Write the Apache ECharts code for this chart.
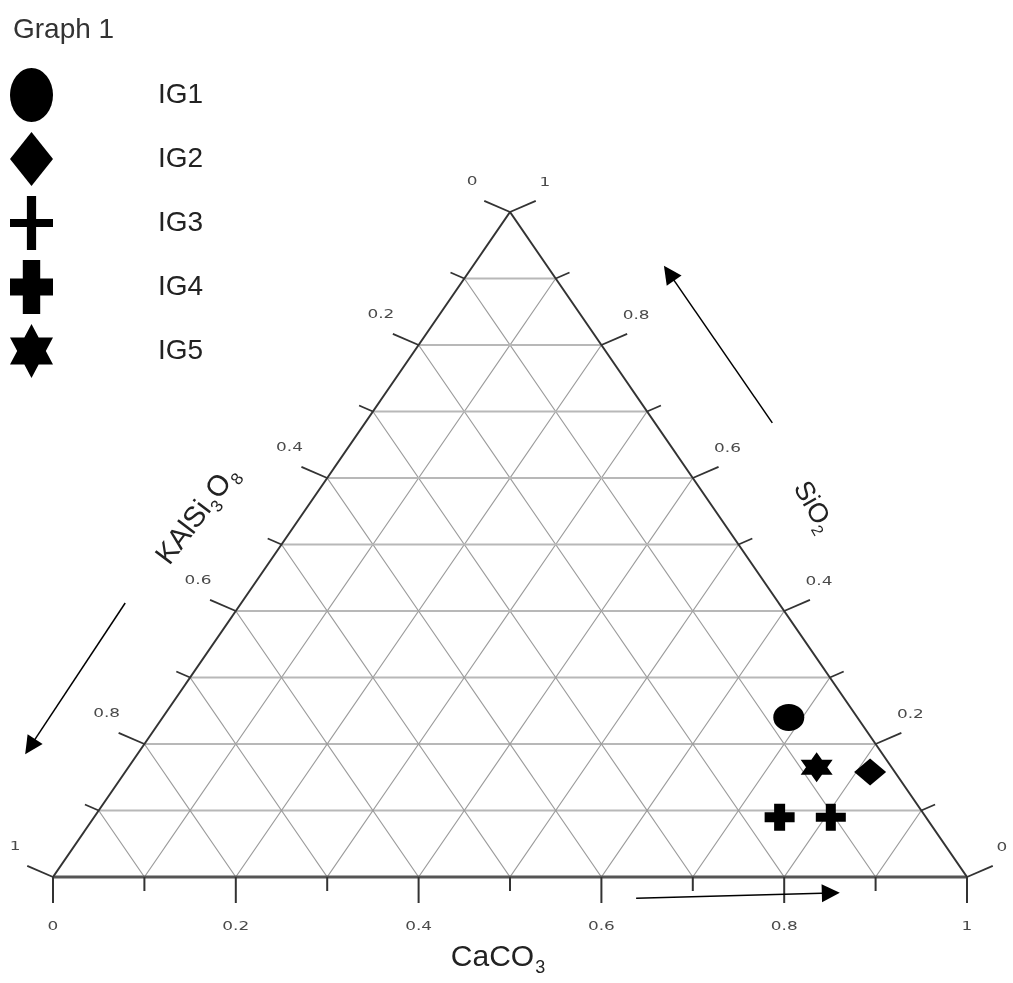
<!DOCTYPE html>
<html>
<head>
<meta charset="utf-8">
<script src="https://cdn.jsdelivr.net/npm/echarts@6/dist/echarts.min.js"></script>
<style>
  html, body { margin: 0; padding: 0; background: #ffffff; }
  #chart { width: 1013px; height: 983px; }
</style>
</head>
<body>
<div id="chart"></div>
<script>
// Sample groups and their composition (fractions of CaCO3, SiO2, KAlSi3O8)
const groups = ['IG1', 'IG2', 'IG3', 'IG4', 'IG5'];
const caco3 = [0.685, 0.815, 0.806, 0.75, 0.753];
const sio2  = [0.24, 0.158, 0.09, 0.09, 0.165];
const kalsi = [0.075, 0.027, 0.104, 0.16, 0.082];

// Ternary axis ticks
const tickValues = [0, 0.1, 0.2, 0.3, 0.4, 0.5, 0.6, 0.7, 0.8, 0.9, 1];
const majorTicks = [0, 0.2, 0.4, 0.6, 0.8, 1];
const tickLabels = ['0', '0.2', '0.4', '0.6', '0.8', '1'];

// Direction arrows beside each axis, [from, to] in plot units
const arrows = [
  [[0.787, 0.683], [0.674, 0.908]],
  [[0.079, 0.412], [-0.025, 0.196]],
  [[0.638, -0.032], [0.851, -0.024]]
];

// ternary (c, s, k) -> plot position: x along CaCO3 base, y = SiO2 height
function toXY(c, s, k) {
  const t = c + s + k;
  return [(c + s / 2) / t, s / t];
}

// marker shapes
function hexagram(w, h) {
  const pts = [];
  for (let i = 0; i < 12; i++) {
    const a = (-90 + 30 * i) * Math.PI / 180;
    const r = i % 2 === 0 ? 1 : 0.577;
    pts.push(((1 + r * Math.cos(a)) * w / 2).toFixed(2) + ',' + ((1 + r * Math.sin(a)) * h / 2).toFixed(2));
  }
  return 'path://M' + pts.join('L') + 'Z';
}
function plus(w, h, bw, bh) {
  const x0 = (w - bw) / 2, x1 = (w + bw) / 2, y0 = (h - bh) / 2, y1 = (h + bh) / 2;
  return 'path://M' + x0 + ',0H' + x1 + 'V' + y0 + 'H' + w + 'V' + y1 + 'H' + x1 + 'V' + h +
         'H' + x0 + 'V' + y1 + 'H0V' + y0 + 'H' + x0 + 'Z';
}
const ellipse = 'path://M0,27A21,27 0 1,1 42,27A21,27 0 1,1 0,27Z';
const diamond = 'path://M21,0L42,27L21,54L0,27Z';

const plotSymbols = [
  { symbol: ellipse, size: [31, 27] },
  { symbol: diamond, size: [32, 27] },
  { symbol: plus(30, 27, 10, 9), size: [30, 27] },
  { symbol: plus(30, 27, 11, 10), size: [30, 27] },
  { symbol: hexagram(32, 30), size: [32, 30] }
];
const legendIcons = [ellipse, diamond, plus(42, 54, 9, 8), plus(42, 54, 17, 17), hexagram(38, 54)];

const FONT = '"Liberation Sans", Arial, sans-serif';
const tickFont = '13px "DejaVu Sans", sans-serif';

function seg(a, b, stroke, width) {
  return { type: 'line', shape: { x1: a[0], y1: a[1], x2: b[0], y2: b[1] },
           style: { stroke: stroke, lineWidth: width } };
}
function tickText(str, x, y) {
  return { type: 'text', x: x, y: y, scaleX: 1.3,
           style: { text: str, font: tickFont, fill: '#4a4a4a', align: 'center', verticalAlign: 'middle' } };
}

// interior grid lines at each inner tick
function renderGrid(params, api) {
  const v = tickValues[params.dataIndex];
  if (v <= 0 || v >= 1) return { type: 'group', children: [] };
  const P = p => api.coord(p);
  return {
    type: 'group',
    children: [
      seg(P([v / 2, v]), P([1 - v / 2, v]), '#b8b8b8', 1.8),
      seg(P([v, 0]), P([v + (1 - v) / 2, 1 - v]), '#9a9a9a', 1.2),
      seg(P([1 - v, 0]), P([(1 - v) / 2, 1 - v]), '#9a9a9a', 1.2)
    ]
  };
}

// triangle edges, ticks and tick labels
function renderAxes(params, api) {
  const i = params.dataIndex;
  const v = tickValues[i];
  const P = p => api.coord(p);
  const children = [];
  if (i === 0) {
    const a = P([0, 0]), b = P([1, 0]), c = P([0.5, 1]);
    children.push(seg(a, b, '#555', 2.8));
    children.push(seg(a, c, '#333', 2));
    children.push(seg(b, c, '#333', 2));
  }
  const mi = majorTicks.findIndex(m => Math.abs(m - v) < 1e-9);
  const major = mi >= 0;
  const tc = '#333';
  // base (CaCO3)
  const bp = P([v, 0]);
  children.push(seg(bp, [bp[0], bp[1] + (major ? 26 : 14)], tc, 2));
  // left (KAlSi3O8)
  const len = major ? 28 : 15;
  const lp = P([v / 2, v]);
  const le = [lp[0] - 0.92 * len, lp[1] - 0.4 * len];
  children.push(seg(lp, le, tc, 1.8));
  // right (SiO2)
  const rp = P([1 - v / 2, v]);
  const re = [rp[0] + 0.92 * len, rp[1] - 0.4 * len];
  children.push(seg(rp, re, tc, 1.8));
  if (major) {
    children.push(tickText(tickLabels[mi], bp[0], bp[1] + 50));
    children.push(tickText(tickLabels[majorTicks.length - 1 - mi], le[0] - 12, le[1] - 19));
    children.push(tickText(tickLabels[mi], re[0] + 9, re[1] - 18));
  }
  return { type: 'group', children: children };
}

const series = [
  {
    type: 'custom', name: 'grid', coordinateSystem: 'cartesian2d', z: 1, silent: true,
    data: tickValues.map((v, i) => [v, i]), renderItem: renderGrid
  },
  {
    type: 'custom', name: 'axes', coordinateSystem: 'cartesian2d', z: 2, silent: true,
    data: tickValues.map((v, i) => [v, i]), renderItem: renderAxes
  },
  {
    type: 'lines', name: 'arrows', coordinateSystem: 'cartesian2d', z: 3, silent: true, clip: false,
    symbol: ['none', 'triangle'], symbolSize: [13, 18],
    lineStyle: { color: '#000', width: 1.5, opacity: 1 },
    data: arrows.map(a => ({ coords: a }))
  }
];
groups.forEach((g, i) => {
  series.push({
    type: 'scatter', name: g, z: 5,
    symbol: plotSymbols[i].symbol, symbolSize: plotSymbols[i].size,
    itemStyle: { color: '#000', opacity: 1 },
    data: [toXY(caco3[i], sio2[i], kalsi[i])]
  });
});

const chart = echarts.init(document.getElementById('chart'), null, { renderer: 'canvas' });
chart.setOption({
  animation: false,
  backgroundColor: '#ffffff',
  title: {
    text: 'Graph 1', left: 8, top: 11,
    textStyle: { fontFamily: FONT, fontSize: 28, fontWeight: 'normal', color: '#333' }
  },
  legend: {
    orient: 'vertical', left: 5, top: 63,
    itemWidth: 43, itemHeight: 54, itemGap: 10,
    symbolKeepAspect: false, selectedMode: false,
    textStyle: { fontFamily: FONT, fontSize: 28, color: '#222', padding: [6, 0, 0, 100] },
    data: groups.map((g, i) => ({ name: g, icon: legendIcons[i], itemStyle: { color: '#000' } }))
  },
  grid: { left: 53, right: 46, top: 212, bottom: 106, containLabel: false },
  xAxis: { type: 'value', min: 0, max: 1, show: false },
  yAxis: { type: 'value', min: 0, max: 1, show: false },
  graphic: [
    {
      type: 'text', x: 498, y: 958, z: 10,
      style: {
        text: '{m|CaCO}{s|3}', align: 'center', verticalAlign: 'middle',
        rich: {
          m: { fontFamily: FONT, fontSize: 30, lineHeight: 34, fill: '#222', color: '#222' },
          s: { fontFamily: FONT, fontSize: 18, lineHeight: 18, verticalAlign: 'top', padding: [18, 0, 0, 1], fill: '#222', color: '#222' }
        }
      }
    },
    {
      type: 'text', x: 198, y: 515, rotation: 53 * Math.PI / 180, z: 10,
      style: {
        text: '{m|KAlSi}{s|3}{m|O}{s|8}', align: 'center', verticalAlign: 'middle',
        rich: {
          m: { fontFamily: FONT, fontSize: 29, lineHeight: 32, fill: '#222', color: '#222' },
          s: { fontFamily: FONT, fontSize: 17, lineHeight: 17, verticalAlign: 'top', padding: [18, 1, 0, 1], fill: '#222', color: '#222' }
        }
      }
    },
    {
      type: 'text', x: 813, y: 507, rotation: -60 * Math.PI / 180, z: 10,
      style: {
        text: '{m|SiO}{s|2}', align: 'center', verticalAlign: 'middle',
        rich: {
          m: { fontFamily: FONT, fontSize: 27, lineHeight: 30, fill: '#222', color: '#222' },
          s: { fontFamily: FONT, fontSize: 16, lineHeight: 16, verticalAlign: 'top', padding: [16, 0, 0, 0], fill: '#222', color: '#222' }
        }
      }
    }
  ],
  series: series
});
</script>
</body>
</html>
